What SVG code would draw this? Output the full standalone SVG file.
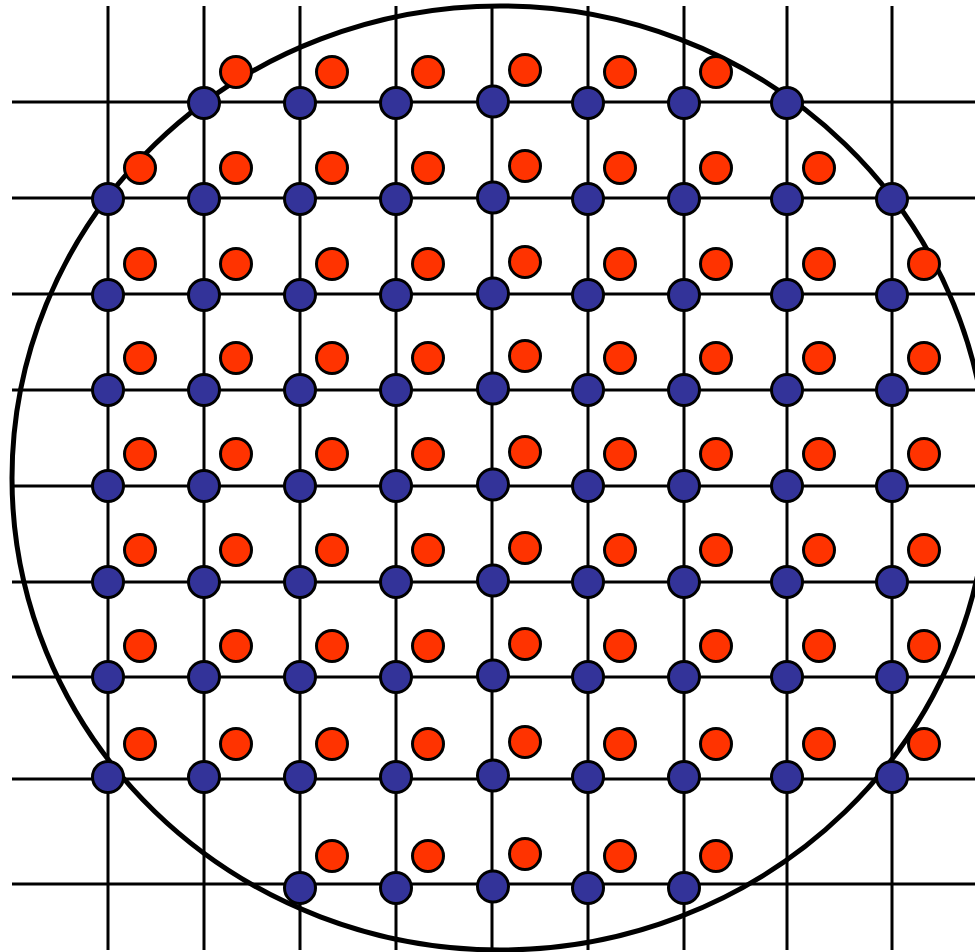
<svg xmlns="http://www.w3.org/2000/svg" width="975" height="952" viewBox="0 0 975 952">
<style>
.ln{stroke:#000;stroke-width:3;fill:none}
.rim{stroke:#000;stroke-width:5;fill:none}
.b{fill:#333399;stroke:#000;stroke-width:3}
.r{fill:#FF3300;stroke:#000;stroke-width:3}
</style>
<rect width="975" height="952" fill="#fff"/>
<g id="connectors">
<line class="ln" x1="108" y1="6" x2="108" y2="950"/>
<line class="ln" x1="204" y1="6" x2="204" y2="950"/>
<line class="ln" x1="300" y1="6" x2="300" y2="950"/>
<line class="ln" x1="396" y1="6" x2="396" y2="950"/>
<line class="ln" x1="492" y1="6" x2="492" y2="950"/>
<line class="ln" x1="588" y1="6" x2="588" y2="950"/>
<line class="ln" x1="684" y1="6" x2="684" y2="950"/>
<line class="ln" x1="787" y1="6" x2="787" y2="950"/>
<line class="ln" x1="892" y1="6" x2="892" y2="950"/>
<line class="ln" x1="12" y1="102" x2="975" y2="102"/>
<line class="ln" x1="12" y1="198" x2="975" y2="198"/>
<line class="ln" x1="12" y1="294" x2="975" y2="294"/>
<line class="ln" x1="12" y1="390" x2="975" y2="390"/>
<line class="ln" x1="12" y1="486" x2="975" y2="486"/>
<line class="ln" x1="12" y1="582" x2="975" y2="582"/>
<line class="ln" x1="12" y1="677" x2="975" y2="677"/>
<line class="ln" x1="12" y1="779" x2="975" y2="779"/>
<line class="ln" x1="12" y1="884" x2="975" y2="884"/>
</g>
<ellipse id="wafer" class="rim" cx="500" cy="478" rx="488" ry="472"/>
<g id="blue-nodes">
<g id="b0-1"><circle class="b" cx="204" cy="103" r="15.5"/></g>
<g id="b0-2"><circle class="b" cx="300" cy="103" r="15.5"/></g>
<g id="b0-3"><circle class="b" cx="396" cy="103" r="15.5"/></g>
<g id="b0-4"><circle class="b" cx="493" cy="101.5" r="15.5"/></g>
<g id="b0-5"><circle class="b" cx="588" cy="103" r="15.5"/></g>
<g id="b0-6"><circle class="b" cx="684" cy="103" r="15.5"/></g>
<g id="b0-7"><circle class="b" cx="787" cy="103" r="15.5"/></g>

<g id="b1-0"><circle class="b" cx="108" cy="199" r="15.5"/></g>
<g id="b1-1"><circle class="b" cx="204" cy="199" r="15.5"/></g>
<g id="b1-2"><circle class="b" cx="300" cy="199" r="15.5"/></g>
<g id="b1-3"><circle class="b" cx="396" cy="199" r="15.5"/></g>
<g id="b1-4"><circle class="b" cx="493" cy="197.5" r="15.5"/></g>
<g id="b1-5"><circle class="b" cx="588" cy="199" r="15.5"/></g>
<g id="b1-6"><circle class="b" cx="684" cy="199" r="15.5"/></g>
<g id="b1-7"><circle class="b" cx="787" cy="199" r="15.5"/></g>
<g id="b1-8"><circle class="b" cx="892" cy="199" r="15.5"/></g>

<g id="b2-0"><circle class="b" cx="108" cy="295" r="15.5"/></g>
<g id="b2-1"><circle class="b" cx="204" cy="295" r="15.5"/></g>
<g id="b2-2"><circle class="b" cx="300" cy="295" r="15.5"/></g>
<g id="b2-3"><circle class="b" cx="396" cy="295" r="15.5"/></g>
<g id="b2-4"><circle class="b" cx="493" cy="293.5" r="15.5"/></g>
<g id="b2-5"><circle class="b" cx="588" cy="295" r="15.5"/></g>
<g id="b2-6"><circle class="b" cx="684" cy="295" r="15.5"/></g>
<g id="b2-7"><circle class="b" cx="787" cy="295" r="15.5"/></g>
<g id="b2-8"><circle class="b" cx="892" cy="295" r="15.5"/></g>

<g id="b3-0"><circle class="b" cx="108" cy="390" r="15.5"/></g>
<g id="b3-1"><circle class="b" cx="204" cy="390" r="15.5"/></g>
<g id="b3-2"><circle class="b" cx="300" cy="390" r="15.5"/></g>
<g id="b3-3"><circle class="b" cx="396" cy="390" r="15.5"/></g>
<g id="b3-4"><circle class="b" cx="493" cy="388.5" r="15.5"/></g>
<g id="b3-5"><circle class="b" cx="588" cy="390" r="15.5"/></g>
<g id="b3-6"><circle class="b" cx="684" cy="390" r="15.5"/></g>
<g id="b3-7"><circle class="b" cx="787" cy="390" r="15.5"/></g>
<g id="b3-8"><circle class="b" cx="892" cy="390" r="15.5"/></g>

<g id="b4-0"><circle class="b" cx="108" cy="486" r="15.5"/></g>
<g id="b4-1"><circle class="b" cx="204" cy="486" r="15.5"/></g>
<g id="b4-2"><circle class="b" cx="300" cy="486" r="15.5"/></g>
<g id="b4-3"><circle class="b" cx="396" cy="486" r="15.5"/></g>
<g id="b4-4"><circle class="b" cx="493" cy="484.5" r="15.5"/></g>
<g id="b4-5"><circle class="b" cx="588" cy="486" r="15.5"/></g>
<g id="b4-6"><circle class="b" cx="684" cy="486" r="15.5"/></g>
<g id="b4-7"><circle class="b" cx="787" cy="486" r="15.5"/></g>
<g id="b4-8"><circle class="b" cx="892" cy="486" r="15.5"/></g>

<g id="b5-0"><circle class="b" cx="108" cy="582" r="15.5"/></g>
<g id="b5-1"><circle class="b" cx="204" cy="582" r="15.5"/></g>
<g id="b5-2"><circle class="b" cx="300" cy="582" r="15.5"/></g>
<g id="b5-3"><circle class="b" cx="396" cy="582" r="15.5"/></g>
<g id="b5-4"><circle class="b" cx="493" cy="580.5" r="15.5"/></g>
<g id="b5-5"><circle class="b" cx="588" cy="582" r="15.5"/></g>
<g id="b5-6"><circle class="b" cx="684" cy="582" r="15.5"/></g>
<g id="b5-7"><circle class="b" cx="787" cy="582" r="15.5"/></g>
<g id="b5-8"><circle class="b" cx="892" cy="582" r="15.5"/></g>

<g id="b6-0"><circle class="b" cx="108" cy="677" r="15.5"/></g>
<g id="b6-1"><circle class="b" cx="204" cy="677" r="15.5"/></g>
<g id="b6-2"><circle class="b" cx="300" cy="677" r="15.5"/></g>
<g id="b6-3"><circle class="b" cx="396" cy="677" r="15.5"/></g>
<g id="b6-4"><circle class="b" cx="493" cy="675.5" r="15.5"/></g>
<g id="b6-5"><circle class="b" cx="588" cy="677" r="15.5"/></g>
<g id="b6-6"><circle class="b" cx="684" cy="677" r="15.5"/></g>
<g id="b6-7"><circle class="b" cx="787" cy="677" r="15.5"/></g>
<g id="b6-8"><circle class="b" cx="892" cy="677" r="15.5"/></g>

<g id="b7-0"><circle class="b" cx="108" cy="777" r="15.5"/></g>
<g id="b7-1"><circle class="b" cx="204" cy="777" r="15.5"/></g>
<g id="b7-2"><circle class="b" cx="300" cy="777" r="15.5"/></g>
<g id="b7-3"><circle class="b" cx="396" cy="777" r="15.5"/></g>
<g id="b7-4"><circle class="b" cx="493" cy="775.5" r="15.5"/></g>
<g id="b7-5"><circle class="b" cx="588" cy="777" r="15.5"/></g>
<g id="b7-6"><circle class="b" cx="684" cy="777" r="15.5"/></g>
<g id="b7-7"><circle class="b" cx="787" cy="777" r="15.5"/></g>
<g id="b7-8"><circle class="b" cx="892" cy="777" r="15.5"/></g>

<g id="b8-2"><circle class="b" cx="300" cy="888" r="15.5"/></g>
<g id="b8-3"><circle class="b" cx="396" cy="888" r="15.5"/></g>
<g id="b8-4"><circle class="b" cx="493" cy="886.5" r="15.5"/></g>
<g id="b8-5"><circle class="b" cx="588" cy="888" r="15.5"/></g>
<g id="b8-6"><circle class="b" cx="684" cy="888" r="15.5"/></g>
</g>
<g id="red-nodes">
<g id="r0-1"><circle class="r" cx="236" cy="72" r="15.5"/></g>
<g id="r0-2"><circle class="r" cx="332" cy="72" r="15.5"/></g>
<g id="r0-3"><circle class="r" cx="428" cy="72" r="15.5"/></g>
<g id="r0-4"><circle class="r" cx="525" cy="70" r="15.5"/></g>
<g id="r0-5"><circle class="r" cx="620" cy="72" r="15.5"/></g>
<g id="r0-6"><circle class="r" cx="716" cy="72" r="15.5"/></g>

<g id="r1-0"><circle class="r" cx="140" cy="168" r="15.5"/></g>
<g id="r1-1"><circle class="r" cx="236" cy="168" r="15.5"/></g>
<g id="r1-2"><circle class="r" cx="332" cy="168" r="15.5"/></g>
<g id="r1-3"><circle class="r" cx="428" cy="168" r="15.5"/></g>
<g id="r1-4"><circle class="r" cx="525" cy="166" r="15.5"/></g>
<g id="r1-5"><circle class="r" cx="620" cy="168" r="15.5"/></g>
<g id="r1-6"><circle class="r" cx="716" cy="168" r="15.5"/></g>
<g id="r1-7"><circle class="r" cx="819" cy="168" r="15.5"/></g>

<g id="r2-0"><circle class="r" cx="140" cy="264" r="15.5"/></g>
<g id="r2-1"><circle class="r" cx="236" cy="264" r="15.5"/></g>
<g id="r2-2"><circle class="r" cx="332" cy="264" r="15.5"/></g>
<g id="r2-3"><circle class="r" cx="428" cy="264" r="15.5"/></g>
<g id="r2-4"><circle class="r" cx="525" cy="262" r="15.5"/></g>
<g id="r2-5"><circle class="r" cx="620" cy="264" r="15.5"/></g>
<g id="r2-6"><circle class="r" cx="716" cy="264" r="15.5"/></g>
<g id="r2-7"><circle class="r" cx="819" cy="264" r="15.5"/></g>
<g id="r2-8"><circle class="r" cx="924" cy="264" r="15.5"/></g>

<g id="r3-0"><circle class="r" cx="140" cy="358" r="15.5"/></g>
<g id="r3-1"><circle class="r" cx="236" cy="358" r="15.5"/></g>
<g id="r3-2"><circle class="r" cx="332" cy="358" r="15.5"/></g>
<g id="r3-3"><circle class="r" cx="428" cy="358" r="15.5"/></g>
<g id="r3-4"><circle class="r" cx="525" cy="356" r="15.5"/></g>
<g id="r3-5"><circle class="r" cx="620" cy="358" r="15.5"/></g>
<g id="r3-6"><circle class="r" cx="716" cy="358" r="15.5"/></g>
<g id="r3-7"><circle class="r" cx="819" cy="358" r="15.5"/></g>
<g id="r3-8"><circle class="r" cx="924" cy="358" r="15.5"/></g>

<g id="r4-0"><circle class="r" cx="140" cy="454" r="15.5"/></g>
<g id="r4-1"><circle class="r" cx="236" cy="454" r="15.5"/></g>
<g id="r4-2"><circle class="r" cx="332" cy="454" r="15.5"/></g>
<g id="r4-3"><circle class="r" cx="428" cy="454" r="15.5"/></g>
<g id="r4-4"><circle class="r" cx="525" cy="452" r="15.5"/></g>
<g id="r4-5"><circle class="r" cx="620" cy="454" r="15.5"/></g>
<g id="r4-6"><circle class="r" cx="716" cy="454" r="15.5"/></g>
<g id="r4-7"><circle class="r" cx="819" cy="454" r="15.5"/></g>
<g id="r4-8"><circle class="r" cx="924" cy="454" r="15.5"/></g>

<g id="r5-0"><circle class="r" cx="140" cy="550" r="15.5"/></g>
<g id="r5-1"><circle class="r" cx="236" cy="550" r="15.5"/></g>
<g id="r5-2"><circle class="r" cx="332" cy="550" r="15.5"/></g>
<g id="r5-3"><circle class="r" cx="428" cy="550" r="15.5"/></g>
<g id="r5-4"><circle class="r" cx="525" cy="548" r="15.5"/></g>
<g id="r5-5"><circle class="r" cx="620" cy="550" r="15.5"/></g>
<g id="r5-6"><circle class="r" cx="716" cy="550" r="15.5"/></g>
<g id="r5-7"><circle class="r" cx="819" cy="550" r="15.5"/></g>
<g id="r5-8"><circle class="r" cx="924" cy="550" r="15.5"/></g>

<g id="r6-0"><circle class="r" cx="140" cy="646" r="15.5"/></g>
<g id="r6-1"><circle class="r" cx="236" cy="646" r="15.5"/></g>
<g id="r6-2"><circle class="r" cx="332" cy="646" r="15.5"/></g>
<g id="r6-3"><circle class="r" cx="428" cy="646" r="15.5"/></g>
<g id="r6-4"><circle class="r" cx="525" cy="644" r="15.5"/></g>
<g id="r6-5"><circle class="r" cx="620" cy="646" r="15.5"/></g>
<g id="r6-6"><circle class="r" cx="716" cy="646" r="15.5"/></g>
<g id="r6-7"><circle class="r" cx="819" cy="646" r="15.5"/></g>
<g id="r6-8"><circle class="r" cx="924" cy="646" r="15.5"/></g>

<g id="r7-0"><circle class="r" cx="140" cy="744" r="15.5"/></g>
<g id="r7-1"><circle class="r" cx="236" cy="744" r="15.5"/></g>
<g id="r7-2"><circle class="r" cx="332" cy="744" r="15.5"/></g>
<g id="r7-3"><circle class="r" cx="428" cy="744" r="15.5"/></g>
<g id="r7-4"><circle class="r" cx="525" cy="742" r="15.5"/></g>
<g id="r7-5"><circle class="r" cx="620" cy="744" r="15.5"/></g>
<g id="r7-6"><circle class="r" cx="716" cy="744" r="15.5"/></g>
<g id="r7-7"><circle class="r" cx="819" cy="744" r="15.5"/></g>
<g id="r7-8"><circle class="r" cx="924" cy="744" r="15.5"/></g>

<g id="r8-2"><circle class="r" cx="332" cy="856" r="15.5"/></g>
<g id="r8-3"><circle class="r" cx="428" cy="856" r="15.5"/></g>
<g id="r8-4"><circle class="r" cx="525" cy="854" r="15.5"/></g>
<g id="r8-5"><circle class="r" cx="620" cy="856" r="15.5"/></g>
<g id="r8-6"><circle class="r" cx="716" cy="856" r="15.5"/></g>
</g>
</svg>
